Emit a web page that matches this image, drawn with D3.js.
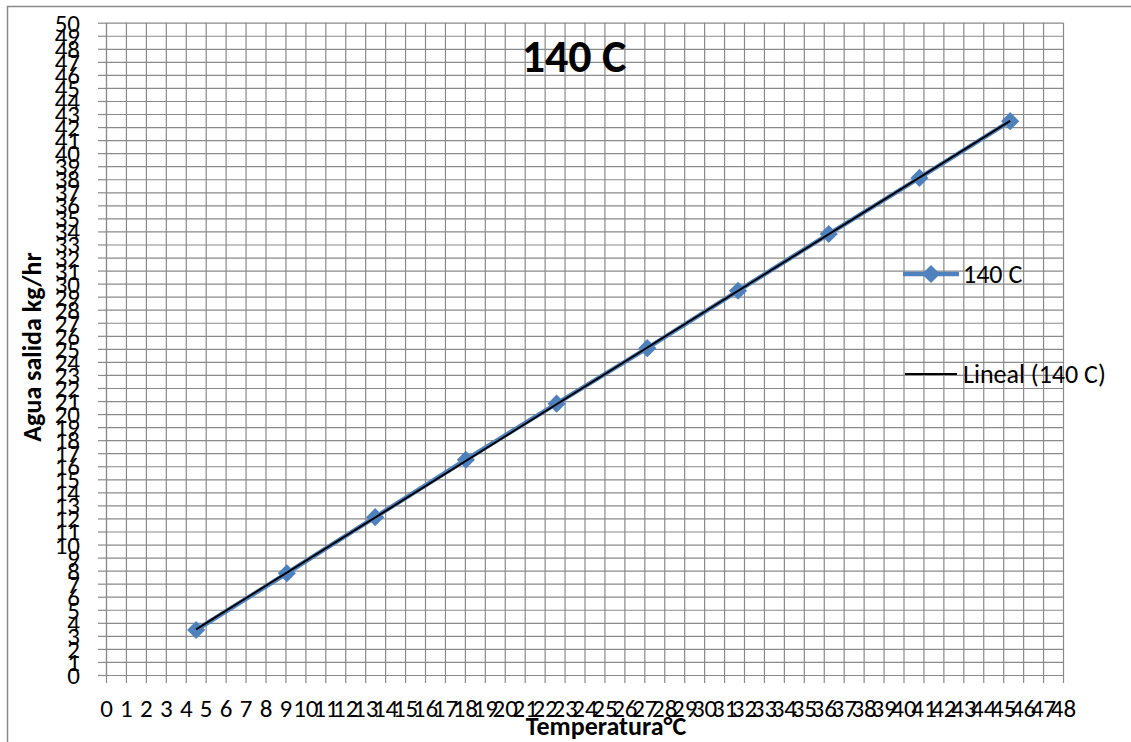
<!DOCTYPE html>
<html>
<head>
<meta charset="utf-8">
<script src="https://cdn.jsdelivr.net/npm/d3@7"></script>
<style>
  html, body { margin: 0; padding: 0; background: #fff; }
  svg { display: block; font-family: Carlito, "Open Sans", sans-serif; }
</style>
</head>
<body>
<svg id="chart" width="1131" height="742"></svg>
<script>
// Temperature readings (x) and water output kg/hr (y), series "140 C"
var temperatura = [4.52, 9.07, 13.5, 18.05, 22.6, 27.15, 31.7, 36.25, 40.8, 45.35];
var aguaSalida = [3.45, 7.8, 12.1, 16.5, 20.8, 25.05, 29.45, 33.8, 38.1, 42.45];
var xTicks = d3.range(0, 49, 1);
var yTicks = d3.range(0, 51, 1);
var seriesName = "140 C";
var trendName = "Lineal (140 C)";

(function () {
    "use strict";

    var svg = d3.select("#chart");
    var gridColour = "#8a8a8a";
    var blue = "#4f81bd";

    // chart border (right/bottom edges fall outside the window)
    svg.append("rect")
        .attr("x", 7.5).attr("y", 6.5)
        .attr("width", 1140).attr("height", 760)
        .attr("fill", "none")
        .attr("stroke", "#8a8a8a")
        .attr("stroke-width", 1.5);

    var x = d3.scaleLinear().domain([0, 48]).range([106, 1063]);
    var y = d3.scaleLinear().domain([0, 50]).range([675, 22.7]);

    // gridlines
    svg.append("g")
        .attr("transform", "translate(0,675)")
        .call(d3.axisBottom(x).tickValues(xTicks).tickSize(-(675 - 22.7)).tickFormat(""))
        .call(function (g) { g.select(".domain").remove(); })
        .selectAll("line").attr("stroke", gridColour).attr("stroke-width", 1.2);

    svg.append("g")
        .attr("transform", "translate(106,0)")
        .call(d3.axisLeft(y).tickValues(yTicks).tickSize(-(1063 - 106)).tickFormat(""))
        .call(function (g) { g.select(".domain").remove(); })
        .selectAll("line").attr("stroke", gridColour).attr("stroke-width", 1.2);

    // axes with outward ticks
    var xAxis = svg.append("g")
        .attr("transform", "translate(0,675)")
        .call(d3.axisBottom(x).tickValues(xTicks).tickSize(8).tickSizeOuter(0).tickPadding(16).tickFormat(d3.format("d")));
    var yAxis = svg.append("g")
        .attr("transform", "translate(106,0)")
        .call(d3.axisLeft(y).tickValues(yTicks).tickSize(8).tickSizeOuter(0).tickPadding(18).tickFormat(d3.format("d")));

    [xAxis, yAxis].forEach(function (g) {
        g.select(".domain").attr("stroke", gridColour).attr("stroke-width", 1.2);
        g.selectAll(".tick line").attr("stroke", gridColour).attr("stroke-width", 1.2);
        g.selectAll("text")
            .attr("fill", "#000")
            .style("font-size", "25px")
            .style("font-family", "Carlito, 'Open Sans', sans-serif");
    });
    yAxis.selectAll("text").attr("dy", "0.34em");

    // series line with diamond markers
    var pts = temperatura.map(function (t, i) { return [t, aguaSalida[i]]; });
    var line = d3.line()
        .x(function (d) { return x(d[0]); })
        .y(function (d) { return y(d[1]); });

    svg.append("path")
        .datum(pts)
        .attr("d", line)
        .attr("fill", "none")
        .attr("stroke", blue)
        .attr("stroke-width", 4.5)
        .attr("stroke-linejoin", "round");

    var diamond = d3.symbol().type(d3.symbolDiamond2).size(210);
    svg.append("g")
        .selectAll("path")
        .data(pts)
        .join("path")
        .attr("transform", function (d) { return "translate(" + x(d[0]) + "," + y(d[1]) + ")"; })
        .attr("d", diamond)
        .attr("fill", blue);

    // linear trendline (least squares)
    var mx = d3.mean(temperatura), my = d3.mean(aguaSalida);
    var sxy = d3.sum(temperatura, function (t, i) { return (t - mx) * (aguaSalida[i] - my); });
    var sxx = d3.sum(temperatura, function (t) { return (t - mx) * (t - mx); });
    var slope = sxy / sxx, icpt = my - slope * mx;
    var x0 = d3.min(temperatura), x1 = d3.max(temperatura);

    svg.append("path")
        .datum([[x0, icpt + slope * x0], [x1, icpt + slope * x1]])
        .attr("d", line)
        .attr("fill", "none")
        .attr("stroke", "#000")
        .attr("stroke-width", 2);

    // title
    svg.append("text")
        .attr("x", 574).attr("y", 72)
        .attr("text-anchor", "middle")
        .style("font-size", "46px")
        .style("font-weight", "bold")
        .text(seriesName);

    // axis titles
    svg.append("text")
        .attr("x", 606).attr("y", 735)
        .attr("text-anchor", "middle")
        .style("font-size", "26px")
        .style("font-weight", "bold")
        .text("Temperatura°C");

    svg.append("text")
        .attr("transform", "translate(41,347) rotate(-90)")
        .attr("text-anchor", "middle")
        .style("font-size", "26px")
        .style("font-weight", "bold")
        .text("Agua salida kg/hr");

    // legend
    var leg = svg.append("g");
    leg.append("line")
        .attr("x1", 903).attr("x2", 959).attr("y1", 274).attr("y2", 274)
        .attr("stroke", blue).attr("stroke-width", 4.5);
    leg.append("path")
        .attr("transform", "translate(931,274)")
        .attr("d", diamond)
        .attr("fill", blue);
    leg.append("text")
        .attr("x", 963).attr("y", 274).attr("dy", "0.35em")
        .style("font-size", "26px")
        .text(seriesName);

    leg.append("line")
        .attr("x1", 905).attr("x2", 957).attr("y1", 374).attr("y2", 374)
        .attr("stroke", "#000").attr("stroke-width", 2);
    leg.append("text")
        .attr("x", 963).attr("y", 374).attr("dy", "0.35em")
        .style("font-size", "26px")
        .text(trendName);
})();
</script>
</body>
</html>
